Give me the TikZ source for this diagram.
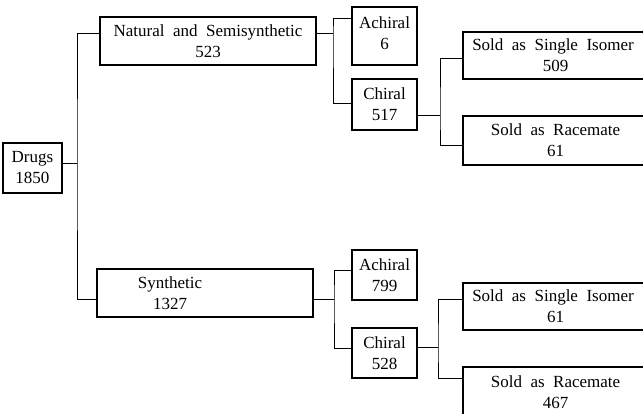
\documentclass[tikz,border=0pt]{standalone}
\usepackage{fontspec}
\setmainfont{Liberation Serif}[WordSpace=2]
\begin{document}
\begin{tikzpicture}[x=1pt,y=-1pt,
  box/.style={draw, line width=1.1pt, inner sep=0pt, align=center,
    font=\fontsize{17}{21}\selectfont},
  txt/.style={inner sep=0pt, align=center, font=\fontsize{17}{21}\selectfont},
  conn/.style={line width=0.9pt}]
\useasboundingbox (0,0) rectangle (643,414);
\clip (0,0) rectangle (643,414);
% boxes
\node[box, minimum width=59pt, minimum height=50pt] (drugs) at (32.5,168) {Drugs\\1850};
\node[box, minimum width=216pt, minimum height=48pt] (nat) at (208,41) {Natural and Semisynthetic\\523};
\node[box, minimum width=65pt, minimum height=58pt] (ach1) at (384.5,36) {};
\node[txt] (ach1t) at ([yshift=3pt]ach1.center) {Achiral\\6};
\node[box, minimum width=65pt, minimum height=51pt] (chi1) at (384.5,104.5) {Chiral\\517};
\node[box, minimum width=185pt, minimum height=47pt] (sin1) at (555.5,55.5) {\hspace*{-5pt}Sold as Single Isomer\\509};
\node[box, minimum width=185pt, minimum height=49pt] (rac1) at (555.5,140.5) {Sold as Racemate\\61};
\node[box, minimum width=216pt, minimum height=48pt] (syn) at (205,293) {};
\node[txt] (synt) at ([xshift=-35pt]syn.center) {Synthetic\\1327};
\node[box, minimum width=65pt, minimum height=50pt] (ach2) at (384.5,275) {Achiral\\799};
\node[box, minimum width=65pt, minimum height=50pt] (chi2) at (384.5,353) {Chiral\\528};
\node[box, minimum width=185pt, minimum height=47pt] (sin2) at (555.5,306.5) {\hspace*{-5pt}Sold as Single Isomer\\61};
\node[box, minimum width=185pt, minimum height=50pt] (rac2) at (555.5,392) {Sold as Racemate\\467};
% bus junctions
\coordinate (b1) at (77,163);
\coordinate (b2) at (333,33);
\coordinate (b3) at (440,115);
\coordinate (b4) at (334,299);
\coordinate (b5) at (438,347);
% connectors
\draw[conn] ([yshift=5pt]drugs.east) -- (b1);
\draw[conn] ([yshift=8pt]nat.west) -| (b1) |- ([yshift=-6pt]syn.west);
\draw[conn] ([yshift=8pt]nat.east) -- (b2);
\draw[conn] ([yshift=18pt]ach1.west) -| (b2) |- ([yshift=1.5pt]chi1.west);
\draw[conn] ([yshift=-10.5pt]chi1.east) -- (b3);
\draw[conn] ([yshift=-2.5pt]sin1.west) -| (b3) |- ([yshift=-4.5pt]rac1.west);
\draw[conn] ([yshift=-6pt]syn.east) -- (b4);
\draw[conn] ([yshift=5pt]ach2.west) -| (b4) |- ([yshift=5pt]chi2.west);
\draw[conn] ([yshift=6pt]chi2.east) -- (b5);
\draw[conn] ([yshift=7.5pt]sin2.west) -| (b5) |- ([yshift=14pt]rac2.west);
\end{tikzpicture}
\end{document}
